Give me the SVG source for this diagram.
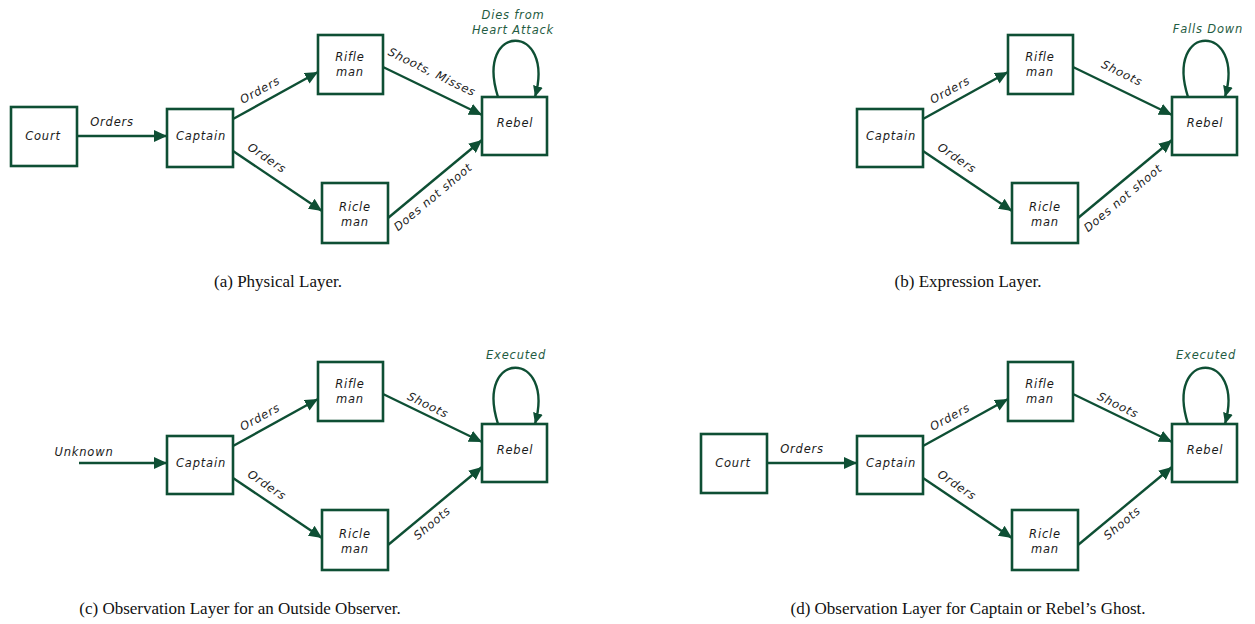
<svg xmlns="http://www.w3.org/2000/svg" width="1255" height="624" viewBox="0 0 1255 624">
<style>
.box{fill:#fff;stroke:#0e4f34;stroke-width:2.6}
.edge{fill:none;stroke:#0e4f34;stroke-width:2.4}
.lbl{font-family:"DejaVu Sans",sans-serif;font-style:italic;font-size:11.5px;letter-spacing:0.8px;fill:#1a1a1a;text-anchor:middle}
.loop{font-family:"DejaVu Sans",sans-serif;font-style:italic;font-size:11.5px;letter-spacing:0.8px;fill:#1f5c42;text-anchor:middle}
.cap{font-family:"Liberation Serif",serif;font-size:17px;fill:#111;text-anchor:middle}
</style>
<defs>
<marker id="ah" markerUnits="userSpaceOnUse" markerWidth="14" markerHeight="12" refX="13" refY="6" orient="auto">
<path d="M0,0 L13,6 L0,12 z" fill="#0e4f34"/>
</marker>
<marker id="ahs" markerUnits="userSpaceOnUse" markerWidth="12" markerHeight="10" refX="11" refY="5" orient="auto">
<path d="M0,0 L11,5 L0,10 z" fill="#0e4f34"/>
</marker>
</defs>
<rect width="1255" height="624" fill="#fff"/>

<!-- Panel (a) -->
<g id="panel-a">
<g id="a-connectors">
<path class="edge" d="M77,136 L167,136" marker-end="url(#ah)"/>
<path class="edge" d="M233,119 L318,72" marker-end="url(#ah)"/>
<path class="edge" d="M233,151 L322,211" marker-end="url(#ah)"/>
<path class="edge" d="M383,67 L482,115" marker-end="url(#ah)"/>
<path class="edge" d="M388,218 L482,140" marker-end="url(#ah)"/>
<path class="edge" d="M498,97 C474,22 556,22 535,97" marker-end="url(#ahs)"/>
<text class="lbl" x="112" y="126">Orders</text>
<text class="lbl" transform="translate(260,90) rotate(-29)" y="4">Orders</text>
<text class="lbl" transform="translate(267,158) rotate(34)" y="4">Orders</text>
<text class="lbl" transform="translate(432,72) rotate(26)" y="4">Shoots, Misses</text>
<text class="lbl" transform="translate(433,197) rotate(-40)" y="4">Does not shoot</text>
<text class="loop" x="513" y="19">Dies from</text>
<text class="loop" x="513" y="34">Heart Attack</text>
</g>
<g id="a-court"><rect class="box" x="11" y="107" width="66" height="59"/><text class="lbl" x="43" y="140">Court</text></g>
<g id="a-captain"><rect class="box" x="167" y="109" width="66" height="58"/><text class="lbl" x="201" y="140">Captain</text></g>
<g id="a-rifleman"><rect class="box" x="318" y="35" width="65" height="59"/><text class="lbl" x="350" y="61">Rifle</text><text class="lbl" x="350" y="76">man</text></g>
<g id="a-ricleman"><rect class="box" x="322" y="183" width="66" height="60"/><text class="lbl" x="355" y="211">Ricle</text><text class="lbl" x="355" y="226">man</text></g>
<g id="a-rebel"><rect class="box" x="482" y="97" width="65" height="58"/><text class="lbl" x="515" y="127">Rebel</text></g>
<text class="cap" x="278" y="287">(a) Physical Layer.</text>
</g>

<!-- Panel (b) -->
<g id="panel-b" transform="translate(690,0)">
<g id="b-connectors">
<path class="edge" d="M233,119 L318,72" marker-end="url(#ah)"/>
<path class="edge" d="M233,151 L322,211" marker-end="url(#ah)"/>
<path class="edge" d="M383,67 L482,115" marker-end="url(#ah)"/>
<path class="edge" d="M388,218 L482,140" marker-end="url(#ah)"/>
<path class="edge" d="M498,97 C474,22 556,22 535,97" marker-end="url(#ahs)"/>
<text class="lbl" transform="translate(260,90) rotate(-29)" y="4">Orders</text>
<text class="lbl" transform="translate(267,158) rotate(34)" y="4">Orders</text>
<text class="lbl" transform="translate(432,73) rotate(26)" y="4">Shoots</text>
<text class="lbl" transform="translate(433,198) rotate(-40)" y="4">Does not shoot</text>
<text class="loop" x="518" y="33">Falls Down</text>
</g>
<g id="b-captain"><rect class="box" x="167" y="109" width="66" height="58"/><text class="lbl" x="201" y="140">Captain</text></g>
<g id="b-rifleman"><rect class="box" x="318" y="35" width="65" height="59"/><text class="lbl" x="350" y="61">Rifle</text><text class="lbl" x="350" y="76">man</text></g>
<g id="b-ricleman"><rect class="box" x="322" y="183" width="66" height="60"/><text class="lbl" x="355" y="211">Ricle</text><text class="lbl" x="355" y="226">man</text></g>
<g id="b-rebel"><rect class="box" x="482" y="97" width="65" height="58"/><text class="lbl" x="515" y="127">Rebel</text></g>
<text class="cap" x="278" y="287">(b) Expression Layer.</text>
</g>

<!-- Panel (c) -->
<g id="panel-c" transform="translate(0,327)">
<g id="c-connectors">
<path class="edge" d="M79,136 L167,136" marker-end="url(#ah)"/>
<path class="edge" d="M233,119 L318,72" marker-end="url(#ah)"/>
<path class="edge" d="M233,151 L322,211" marker-end="url(#ah)"/>
<path class="edge" d="M383,67 L482,115" marker-end="url(#ah)"/>
<path class="edge" d="M388,218 L482,140" marker-end="url(#ah)"/>
<path class="edge" d="M498,97 C474,22 556,22 535,97" marker-end="url(#ahs)"/>
<text class="lbl" x="84" y="129">Unknown</text>
<text class="lbl" transform="translate(260,90) rotate(-29)" y="4">Orders</text>
<text class="lbl" transform="translate(267,158) rotate(34)" y="4">Orders</text>
<text class="lbl" transform="translate(428,78) rotate(26)" y="4">Shoots</text>
<text class="lbl" transform="translate(432,196) rotate(-40)" y="4">Shoots</text>
<text class="loop" x="516" y="32">Executed</text>
</g>
<g id="c-captain"><rect class="box" x="167" y="109" width="66" height="58"/><text class="lbl" x="201" y="140">Captain</text></g>
<g id="c-rifleman"><rect class="box" x="318" y="35" width="65" height="59"/><text class="lbl" x="350" y="61">Rifle</text><text class="lbl" x="350" y="76">man</text></g>
<g id="c-ricleman"><rect class="box" x="322" y="183" width="66" height="60"/><text class="lbl" x="355" y="211">Ricle</text><text class="lbl" x="355" y="226">man</text></g>
<g id="c-rebel"><rect class="box" x="482" y="97" width="65" height="58"/><text class="lbl" x="515" y="127">Rebel</text></g>
<text class="cap" x="240" y="287">(c) Observation Layer for an Outside Observer.</text>
</g>

<!-- Panel (d) -->
<g id="panel-d" transform="translate(690,327)">
<g id="d-connectors">
<path class="edge" d="M77,136 L167,136" marker-end="url(#ah)"/>
<path class="edge" d="M233,119 L318,72" marker-end="url(#ah)"/>
<path class="edge" d="M233,151 L322,211" marker-end="url(#ah)"/>
<path class="edge" d="M383,67 L482,115" marker-end="url(#ah)"/>
<path class="edge" d="M388,218 L482,140" marker-end="url(#ah)"/>
<path class="edge" d="M498,97 C474,22 556,22 535,97" marker-end="url(#ahs)"/>
<text class="lbl" x="112" y="126">Orders</text>
<text class="lbl" transform="translate(260,90) rotate(-29)" y="4">Orders</text>
<text class="lbl" transform="translate(267,158) rotate(34)" y="4">Orders</text>
<text class="lbl" transform="translate(428,78) rotate(26)" y="4">Shoots</text>
<text class="lbl" transform="translate(432,196) rotate(-40)" y="4">Shoots</text>
<text class="loop" x="516" y="32">Executed</text>
</g>
<g id="d-court"><rect class="box" x="11" y="107" width="66" height="59"/><text class="lbl" x="43" y="140">Court</text></g>
<g id="d-captain"><rect class="box" x="167" y="109" width="66" height="58"/><text class="lbl" x="201" y="140">Captain</text></g>
<g id="d-rifleman"><rect class="box" x="318" y="35" width="65" height="59"/><text class="lbl" x="350" y="61">Rifle</text><text class="lbl" x="350" y="76">man</text></g>
<g id="d-ricleman"><rect class="box" x="322" y="183" width="66" height="60"/><text class="lbl" x="355" y="211">Ricle</text><text class="lbl" x="355" y="226">man</text></g>
<g id="d-rebel"><rect class="box" x="482" y="97" width="65" height="58"/><text class="lbl" x="515" y="127">Rebel</text></g>
<text class="cap" x="278" y="287">(d) Observation Layer for Captain or Rebel’s Ghost.</text>
</g>
</svg>
